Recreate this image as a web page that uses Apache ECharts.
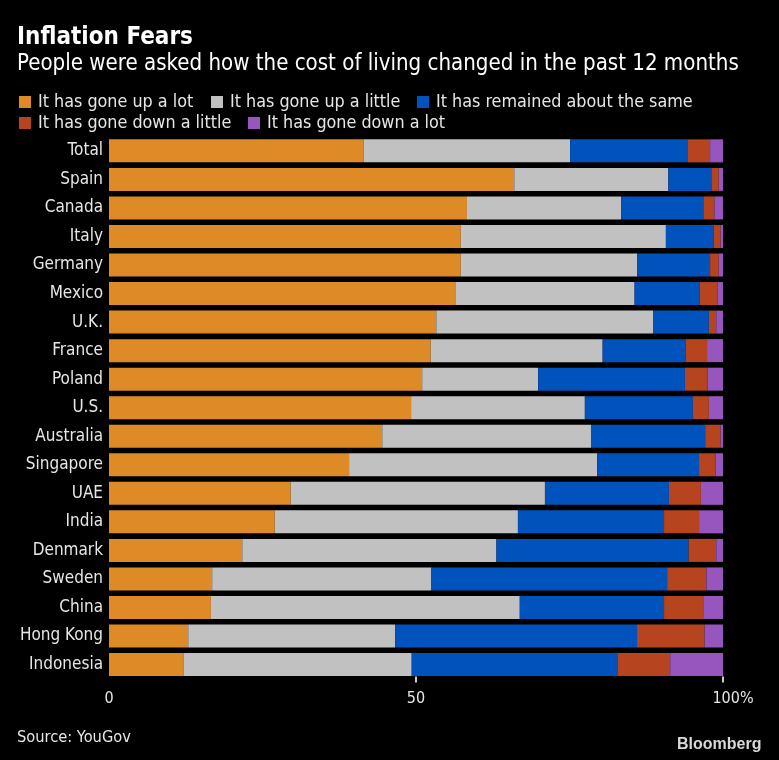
<!DOCTYPE html>
<html>
<head>
<meta charset="utf-8">
<style>
  html, body { margin: 0; padding: 0; background: #000; }
  #chart { width: 779px; height: 760px; }
</style>
<script src="https://cdn.jsdelivr.net/npm/echarts@6/dist/echarts.min.js"></script>
</head>
<body>
<div id="chart"></div>
<script>
var countries = ['Total', 'Spain', 'Canada', 'Italy', 'Germany', 'Mexico', 'U.K.', 'France', 'Poland', 'U.S.',
  'Australia', 'Singapore', 'UAE', 'India', 'Denmark', 'Sweden', 'China', 'Hong Kong', 'Indonesia'];

var upALot = [41.5, 66.0, 58.3, 57.3, 57.3, 56.4, 53.3, 52.4, 51.0, 49.2, 44.5, 39.1, 29.6, 27.0, 21.7, 16.8, 16.6, 12.9, 12.2];
var upALittle = [33.6, 25.1, 25.1, 33.4, 28.7, 29.2, 35.3, 28.0, 18.9, 28.3, 34.0, 40.4, 41.4, 39.6, 41.4, 35.7, 50.3, 33.7, 37.1];
var same = [19.1, 7.0, 13.4, 7.8, 11.9, 10.6, 9.1, 13.5, 23.9, 17.6, 18.6, 16.6, 20.2, 23.8, 31.3, 38.4, 23.5, 39.4, 33.5];
var downALittle = [3.7, 1.2, 1.8, 1.1, 1.4, 2.9, 1.2, 3.5, 3.7, 2.6, 2.5, 2.7, 5.2, 5.7, 4.5, 6.4, 6.5, 11.0, 8.6];
var downALot = [2.1, 0.7, 1.5, 0.4, 0.7, 1.0, 1.1, 2.6, 2.6, 2.3, 0.4, 1.2, 3.6, 3.9, 1.2, 2.8, 3.1, 3.1, 8.6];

var seriesNames = ['It has gone up a lot', 'It has gone up a little', 'It has remained about the same',
  'It has gone down a little', 'It has gone down a lot'];
var seriesValues = [upALot, upALittle, same, downALittle, downALot];
var seriesColors = ['#de8b27', '#c1c1c1', '#0052bd', '#b6441f', '#9656bd'];

var tickMarks = [50, 100];

var font = '"DejaVu Sans Condensed", "DejaVu Sans", sans-serif';
var textColor = '#e6e6e6';

// one legend per item so each swatch sits where it does in the picture
var legendSpots = [[19, 93], [211, 93], [417, 93], [19, 114], [248, 114]];

var barSeries = seriesNames.map(function (name, i) {
  return {
    name: name,
    type: 'bar',
    stack: 'all',
    barWidth: 23,
    silent: true,
    itemStyle: { color: seriesColors[i] },
    data: seriesValues[i]
  };
});

// axis ticks only at 50 and 100, hanging under the last bar
var tickSeries = {
  type: 'scatter',
  silent: true,
  clip: false,
  symbol: 'rect',
  symbolSize: [2, 6],
  symbolOffset: [0, 15],
  z: 10,
  itemStyle: { color: '#ffffff' },
  data: tickMarks.map(function (v) { return [v, countries[countries.length - 1]]; })
};

var chart = echarts.init(document.getElementById('chart'), null, { renderer: 'canvas' });

chart.setOption({
  backgroundColor: '#000',
  animation: false,
  title: [
    { text: 'Inflation Fears', left: 17, top: 26, padding: 0, textStyle: { color: '#fff', fontFamily: font, fontSize: 24, fontWeight: 'bold' } },
    { text: 'People were asked how the cost of living changed in the past 12 months', left: 17, top: 53, padding: 0, textStyle: { color: '#fff', fontFamily: font, fontSize: 22.1, fontWeight: 'normal' } },
    { text: 'Source: YouGov', left: 17, top: 730, padding: 0, textStyle: { color: textColor, fontFamily: font, fontSize: 16.3, fontWeight: 'normal' } },
    { text: 'Bloomberg', left: 677, top: 737, padding: 0, textStyle: { color: '#d8d8d8', fontFamily: '"Liberation Sans", sans-serif', fontSize: 16, fontWeight: 'bold' } }
  ],
  legend: seriesNames.map(function (name, i) {
    return {
      data: [name],
      left: legendSpots[i][0],
      top: legendSpots[i][1],
      padding: 0,
      itemWidth: 12,
      itemHeight: 12,
      icon: 'rect',
      selectedMode: false,
      textStyle: { color: textColor, fontFamily: font, fontSize: 17.8, padding: [0, 0, 0, 2] }
    };
  }),
  grid: { left: 109, right: 56, top: 136.6, bottom: 81.2, containLabel: false },
  xAxis: {
    type: 'value',
    min: 0,
    max: 100,
    interval: 50,
    splitLine: { show: false },
    axisLine: { show: false },
    axisTick: { show: false },
    axisLabel: {
      color: textColor,
      fontFamily: font,
      fontSize: 16,
      margin: 12,
      formatter: function (v) { return v === 100 ? '{last|100%}' : String(v); },
      rich: { last: { color: textColor, fontFamily: font, fontSize: 16, padding: [0, 0, 0, 20] } }
    }
  },
  yAxis: {
    type: 'category',
    inverse: true,
    data: countries,
    axisLine: { show: false },
    axisTick: { show: false },
    axisLabel: { color: textColor, fontFamily: font, fontSize: 17, margin: 6 }
  },
  series: barSeries.concat([tickSeries])
});
</script>
</body>
</html>
